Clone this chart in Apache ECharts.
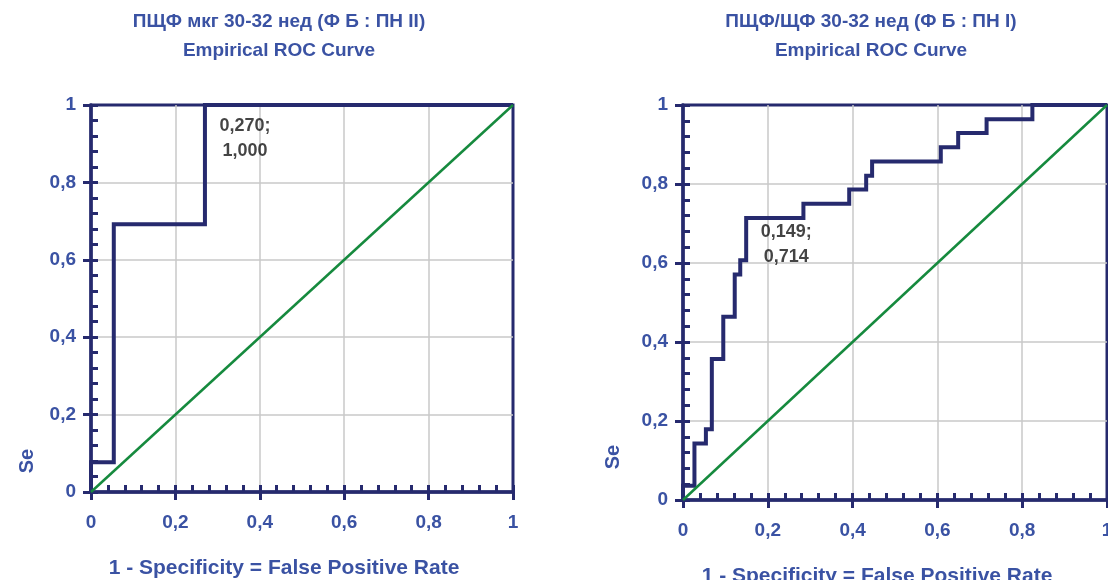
<!DOCTYPE html>
<html>
<head>
<meta charset="utf-8">
<script src="https://cdn.jsdelivr.net/npm/echarts@6/dist/echarts.min.js"></script>
<style>
html,body{margin:0;padding:0;background:#fff;}
#roc{width:1108px;height:580px;}
</style>
</head>
<body>
<div id="roc"></div>
<script>
// ROC points (1 - Sp, Se), step after each point
var leftFpr = [0, 0, 0.054, 0.270, 1];
var leftSe  = [0, 0.077, 0.692, 1, 1];
var rightFpr = [0, 0, 0.027, 0.054, 0.068, 0.095, 0.122, 0.135, 0.149, 0.284, 0.392, 0.432, 0.446, 0.608, 0.649, 0.716, 0.824, 1];
var rightSe  = [0, 0.036, 0.143, 0.179, 0.357, 0.464, 0.571, 0.607, 0.714, 0.750, 0.786, 0.821, 0.857, 0.893, 0.929, 0.964, 1, 1];
var diagX = [0, 1];
var diagY = [0, 1];
// optimal cut-off points
var cutLeft = [0.270, 1.000];
var cutRight = [0.149, 0.714];
var titles = ['ПЩФ мкг 30-32 нед (Ф Б : ПН II)', 'ПЩФ/ЩФ 30-32 нед (Ф Б : ПН I)'];
var subTitle = 'Empirical ROC Curve';
var xName = '1 - Specificity = False Positive Rate';
var yName = 'Se';

var navy = '#262a6e';
var blue = '#3a52a3';
var green = '#168a3e';
var font = '"Liberation Sans", Arial, sans-serif';

function pairs(xs, ys){
    var out = [];
    for (var i = 0; i < xs.length; i++) out.push([xs[i], ys[i]]);
    return out;
}
function comma(v){ return String(v).replace('.', ','); }

var mychart = echarts.init(document.getElementById('roc'));

var grids = [
    {left: 91, top: 105, width: 422, height: 387},
    {left: 683, top: 105, width: 424, height: 395}
];

function mainAxis(type, gi){
    return {
        type: 'value', gridIndex: gi, min: 0, max: 1, interval: 0.2,
        position: type == 'x' ? 'bottom' : 'left',
        name: type == 'x' ? xName : '',
        nameLocation: 'middle',
        nameGap: type == 'x' ? 66 : 0,
        nameTextStyle: {color: blue, fontSize: 21, fontWeight: 'bold', fontFamily: font, padding: [0, 36, 0, 0]},
        axisLine: {show: true, onZero: false, lineStyle: {color: navy, width: 3.5}},
        axisTick: {show: true, inside: true, length: 7, lineStyle: {color: navy, width: 3}},
        minorTick: {show: true, splitNumber: 5, length: 7, lineStyle: {color: navy, width: 3}},
        axisLabel: {color: blue, fontSize: 19, fontWeight: 'bold', fontFamily: font,
            margin: type == 'x' ? 21 : 15, formatter: comma},
        splitLine: {show: true, showMinLine: false, showMaxLine: false,
            lineStyle: {color: '#c9c9c9', width: 1.5}}
    };
}
// outer half of the major ticks
function outerAxis(type, gi){
    return {
        type: 'value', gridIndex: gi, min: 0, max: 1, interval: 0.2,
        position: type == 'x' ? 'bottom' : 'left',
        axisLine: {show: false},
        axisTick: {show: true, inside: false, length: 8, lineStyle: {color: navy, width: 3}},
        axisLabel: {show: false},
        splitLine: {show: false}
    };
}

function cutLabel(cut, off){
    return {
        type: 'scatter', xAxisIndex: cut === cutLeft ? 0 : 2, yAxisIndex: cut === cutLeft ? 0 : 2,
        symbolSize: 0, z: 5,
        data: [cut],
        label: {show: true, position: 'inside', offset: off, align: 'center',
            color: '#151515', fontSize: 18, fontWeight: 'bold', fontFamily: font, lineHeight: 25,
            formatter: function(p){ return p.value[0].toFixed(3).replace('.', ',') + ';\n' + p.value[1].toFixed(3).replace('.', ','); }}
    };
}

mychart.setOption({
    animation: false,
    title: [
        {text: titles[0] + '\n' + subTitle, left: 274, top: 2, textAlign: 'center',
         textStyle: {color: blue, fontSize: 19, fontWeight: 'bold', fontFamily: font, lineHeight: 29}},
        {text: titles[1] + '\n' + subTitle, left: 866, top: 2, textAlign: 'center',
         textStyle: {color: blue, fontSize: 19, fontWeight: 'bold', fontFamily: font, lineHeight: 29}}
    ],
    grid: grids.map(function(g){
        return {left: g.left, top: g.top, width: g.width, height: g.height, outerBoundsMode: 'none',
            containLabel: false, show: true, borderColor: navy, borderWidth: 3, backgroundColor: 'transparent'};
    }),
    xAxis: [mainAxis('x', 0), outerAxis('x', 0), mainAxis('x', 1), outerAxis('x', 1)],
    yAxis: [mainAxis('y', 0), outerAxis('y', 0), mainAxis('y', 1), outerAxis('y', 1)],
    graphic: [
        {type: 'text', x: 27, y: 461, rotation: Math.PI / 2,
         style: {text: yName, fill: blue, font: 'bold 20px ' + font, align: 'center', verticalAlign: 'middle'}},
        {type: 'text', x: 613, y: 457, rotation: Math.PI / 2,
         style: {text: yName, fill: blue, font: 'bold 20px ' + font, align: 'center', verticalAlign: 'middle'}}
    ],
    series: [
        {type: 'line', xAxisIndex: 0, yAxisIndex: 0, step: 'end', clip: false, symbol: 'none', z: 3,
         lineStyle: {color: navy, width: 4, join: 'miter'}, data: pairs(leftFpr, leftSe)},
        {type: 'line', xAxisIndex: 0, yAxisIndex: 0, clip: false, symbol: 'none', z: 4,
         lineStyle: {color: green, width: 2.5}, data: pairs(diagX, diagY)},
        {type: 'line', xAxisIndex: 2, yAxisIndex: 2, step: 'end', clip: false, symbol: 'none', z: 3,
         lineStyle: {color: navy, width: 4, join: 'miter'}, data: pairs(rightFpr, rightSe)},
        {type: 'line', xAxisIndex: 2, yAxisIndex: 2, clip: false, symbol: 'none', z: 4,
         lineStyle: {color: green, width: 2.5}, data: pairs(diagX, diagY)},
        cutLabel(cutLeft, [40, 34]),
        cutLabel(cutRight, [40, 27])
    ]
});
</script>
</body>
</html>
